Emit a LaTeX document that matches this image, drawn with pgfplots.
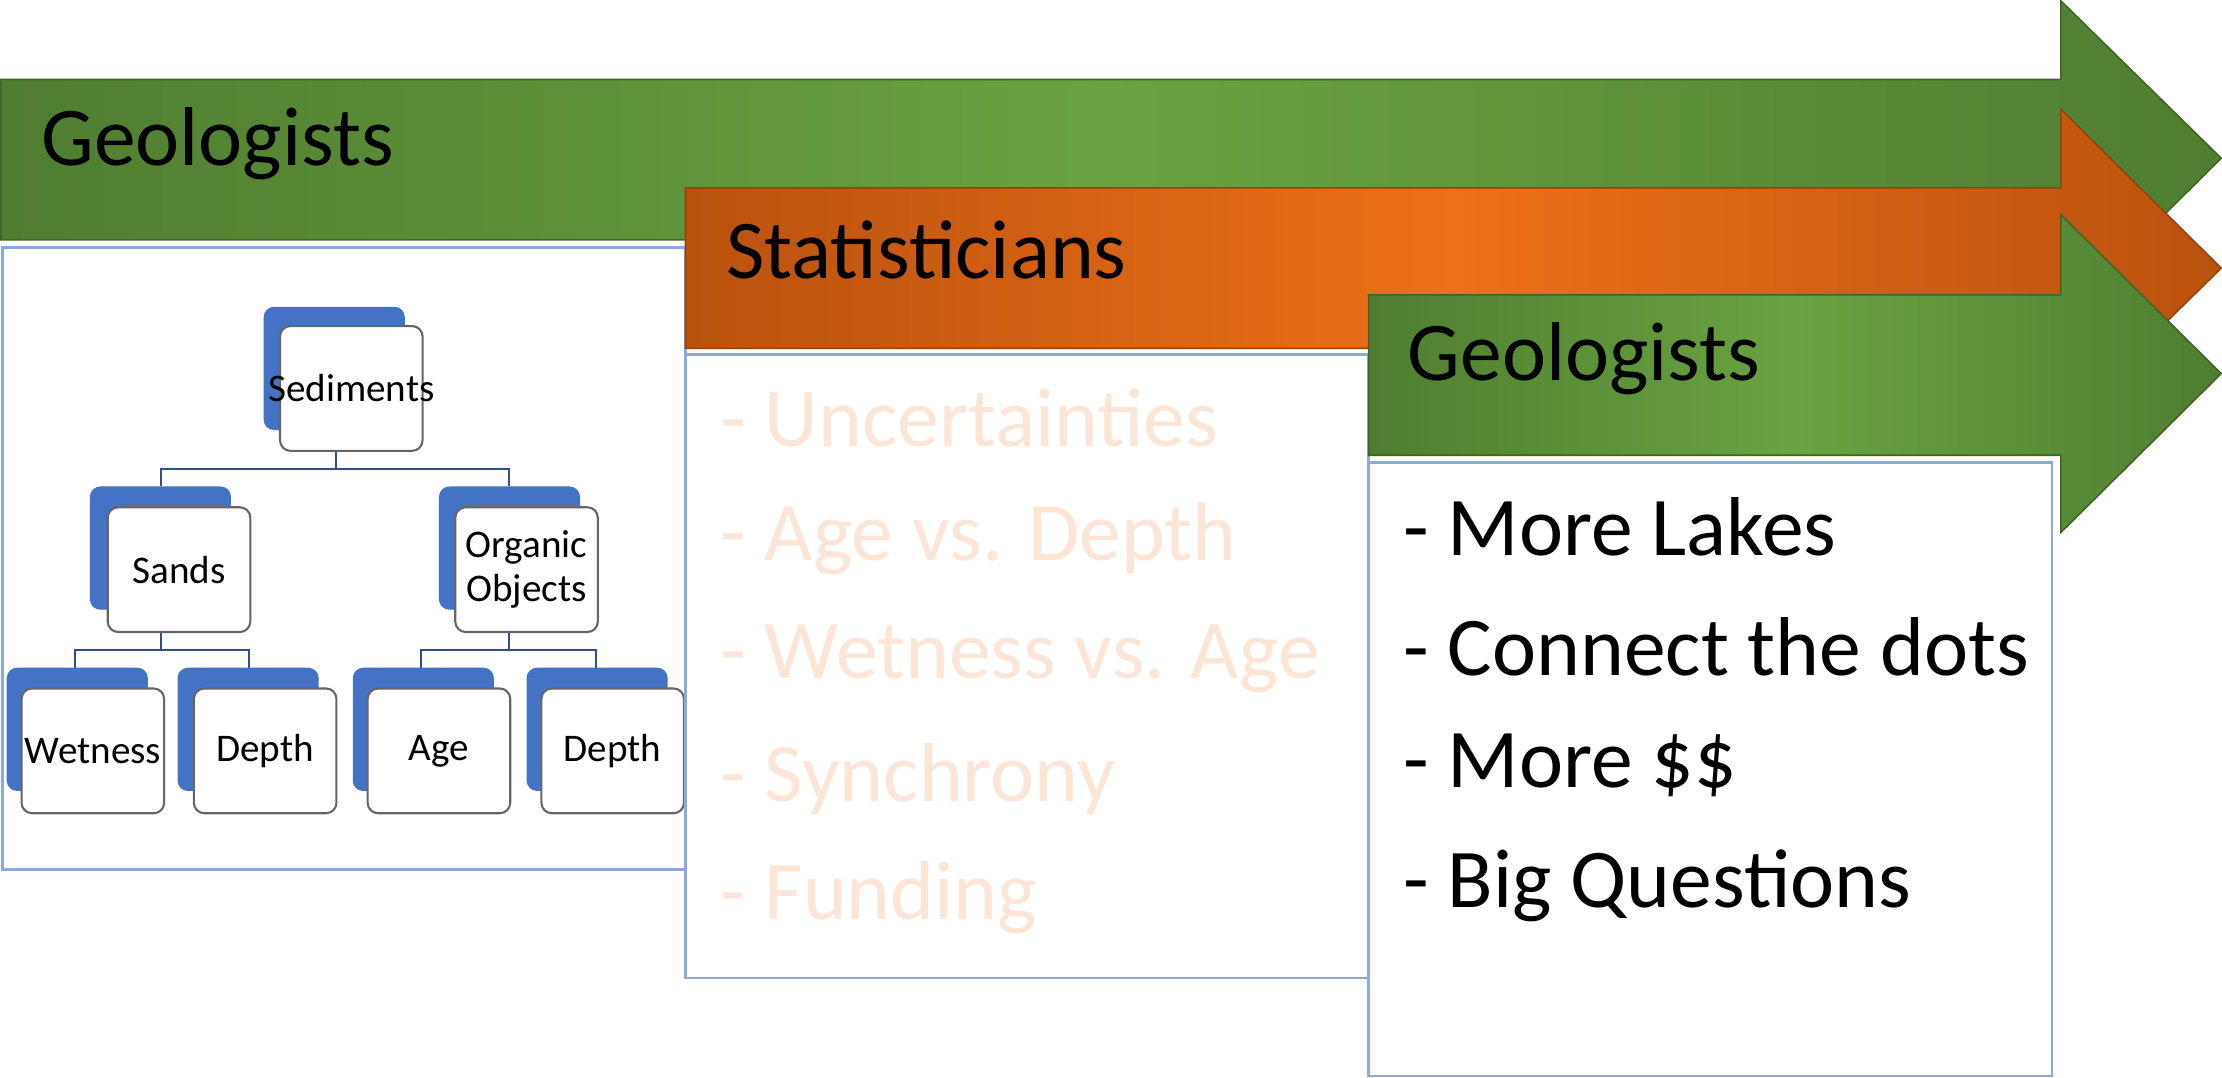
\documentclass[border=0pt]{standalone}
\usepackage{pgfplots}
\pgfplotsset{compat=1.18}
\usepackage{fontspec}
\setmainfont{Carlito}
\definecolor{gdark}{HTML}{507D31}
\definecolor{glight}{HTML}{6AA341}
\definecolor{odark}{HTML}{B9520F}
\definecolor{olight}{HTML}{EE7018}
\definecolor{bbord}{HTML}{8EA9DB}
\definecolor{peach}{HTML}{FBE5D6}
\definecolor{nblue}{HTML}{4472C4}
\newcommand{\onode}[5]{%
 \fill[nblue,rounded corners=2pt] (axis cs:#1,#2) rectangle (axis cs:{#1+95},{#2+83});
 \draw[gray!80!black,fill=white,rounded corners=2pt,line width=0.4pt] (axis cs:#3,#4) rectangle (axis cs:{#3+96},{#4+84});
 \node[align=center,font=\fontsize{7.5}{8.5}\selectfont] at (axis cs:{#3+48},{#4+42}) {#5};}
\newcommand{\pl}[2]{\node[anchor=west,text=peach,font=\fontsize{16}{18}\selectfont] at (axis cs:505,#2) {#1};}
\newcommand{\bl}[2]{\node[anchor=west,font=\fontsize{16}{18}\selectfont] at (axis cs:965,#2) {#1};}
\begin{document}
\begin{tikzpicture}
\begin{axis}[scale only axis,width=15.6cm,height=8.425cm,xmin=0,xmax=1560,ymin=0,ymax=842.5,y dir=reverse,axis lines=none,clip=false]
\shade[left color=gdark,right color=gdark,middle color=glight,draw=gdark!80!black,line width=0.3pt]
 (axis cs:33,105)--(axis cs:1420,105)--(axis cs:1420,52)--(axis cs:1528,158)--(axis cs:1420,265)--(axis cs:1420,213)--(axis cs:33,213)--cycle;
\node[anchor=west,font=\fontsize{16}{18}\selectfont] at (axis cs:48,148) {Geologists};
\draw[bbord,fill=white,line width=0.5pt] (axis cs:34,218) rectangle (axis cs:494,637);
\draw[nblue!70!black,line width=0.4pt] (axis cs:259,355)--(axis cs:259,367) (axis cs:141,379)--(axis cs:141,367)--(axis cs:375,367)--(axis cs:375,379)
 (axis cs:141,477)--(axis cs:141,489) (axis cs:83,501)--(axis cs:83,489)--(axis cs:200,489)--(axis cs:200,501)
 (axis cs:375,477)--(axis cs:375,489) (axis cs:316,501)--(axis cs:316,489)--(axis cs:434,489)--(axis cs:434,501);
\onode{210}{258}{221}{271}{Sediments}
\onode{93}{379}{105}{393}{Sands}
\onode{328}{379}{339}{393}{Organic\\Objects}
\onode{37}{501}{47}{515}{Wetness}
\onode{152}{501}{163}{515}{Depth}
\onode{270}{501}{280}{515}{Age}
\onode{387}{501}{397}{515}{Depth}
\shade[left color=odark,right color=odark,middle color=olight,draw=odark!80!black,line width=0.3pt]
 (axis cs:494,178)--(axis cs:1420,178)--(axis cs:1420,125)--(axis cs:1528,232)--(axis cs:1420,338)--(axis cs:1420,286)--(axis cs:494,286)--cycle;
\node[anchor=west,font=\fontsize{16}{18}\selectfont] at (axis cs:509,220) {Statisticians};
\draw[bbord,fill=white,line width=0.5pt] (axis cs:494,290) rectangle (axis cs:954,710);
\pl{- Uncertainties}{333}
\pl{- Age vs. Depth}{414}
\pl{- Wetness vs. Age}{495}
\pl{- Synchrony}{576}
\pl{- Funding}{656}
\shade[left color=gdark,right color=gdark,middle color=glight,draw=gdark!80!black,line width=0.3pt]
 (axis cs:954,250)--(axis cs:1420,250)--(axis cs:1420,196)--(axis cs:1528,303)--(axis cs:1420,410)--(axis cs:1420,358)--(axis cs:954,358)--cycle;
\node[anchor=west,font=\fontsize{16}{18}\selectfont] at (axis cs:968,293) {Geologists};
\draw[bbord,fill=white,line width=0.5pt] (axis cs:954,363) rectangle (axis cs:1414,776);
\bl{- More Lakes}{406}
\bl{- Connect the dots}{487}
\bl{- More \$\$}{567}
\bl{- Big Questions}{648}
\end{axis}
\end{tikzpicture}
\end{document}
